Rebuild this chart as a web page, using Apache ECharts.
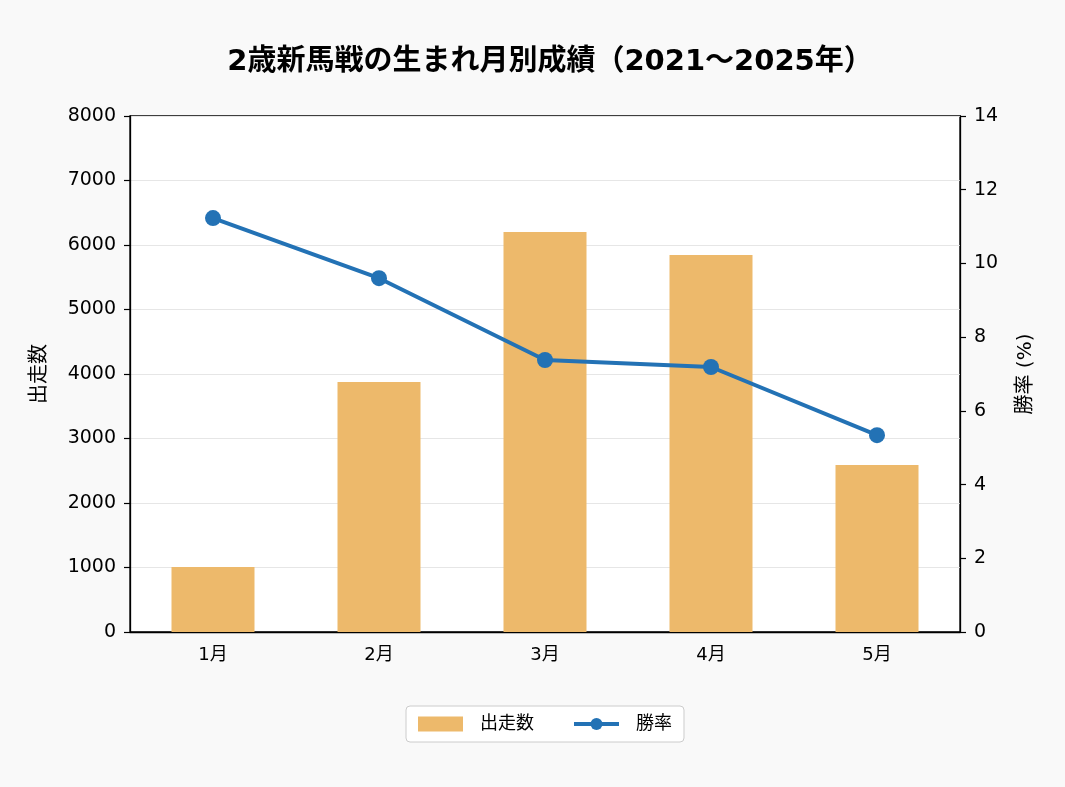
<!DOCTYPE html>
<html>
<head>
<meta charset="utf-8">
<script src="https://cdn.jsdelivr.net/npm/echarts@6/dist/echarts.min.js"></script>
<style>
  html, body { margin: 0; padding: 0; background: #f9f9f9; }
  #chart { width: 1065px; height: 787px; }
</style>
</head>
<body>
<div id="chart"></div>
<script>
const months = ['1月', '2月', '3月', '4月', '5月'];
const starters = [1008, 3876, 6200, 5845, 2590];
const winRate = [11.23, 9.6, 7.38, 7.19, 5.34];

// 数字は幅広のフォント、和文はCJKフォントへフォールバック
const FONT = '"DejaVu Sans", "Noto Sans CJK JP", sans-serif';

const chart = echarts.init(document.getElementById('chart'), null, { renderer: 'canvas' });

const option = {
  backgroundColor: '#f9f9f9',
  textStyle: { fontFamily: FONT },
  title: {
    text: '2歳新馬戦の生まれ月別成績（2021〜2025年）',
    left: 545,
    textAlign: 'center',
    top: 43,
    textStyle: { fontSize: 29, fontWeight: 'bold', color: '#000', fontFamily: FONT }
  },
  grid: {
    left: 130,
    right: 105,
    top: 116,
    bottom: 155,
    show: true,
    backgroundColor: '#fff',
    borderColor: '#000',
    borderWidth: 1.3
  },
  legend: {
    bottom: 45,
    left: 406,
    itemWidth: 45,
    itemHeight: 15,
    itemGap: 38,
    padding: [9, 12],
    borderColor: '#ccc',
    borderWidth: 1,
    borderRadius: 4,
    backgroundColor: '#fff',
    textStyle: { fontSize: 18, color: '#000', fontFamily: FONT, padding: [0, 0, 0, 12] },
    data: [
      { name: '出走数', icon: 'rect' },
      { name: '勝率', lineStyle: { width: 4 } }
    ]
  },
  xAxis: {
    type: 'category',
    data: months,
    axisLine: { lineStyle: { color: '#000', width: 1.3 } },
    axisTick: { alignWithLabel: true, length: 6, lineStyle: { color: '#000', width: 1.2 } },
    axisLabel: { fontSize: 18, color: '#000', margin: 14 }
  },
  yAxis: [
    {
      type: 'value',
      min: 0,
      max: 8000,
      interval: 1000,
      name: '出走数',
      nameLocation: 'middle',
      nameGap: 80,
      nameTextStyle: { fontSize: 20, color: '#000' },
      axisLine: { show: true, lineStyle: { color: '#000', width: 1.3 } },
      axisTick: { show: true, length: 6, lineStyle: { color: '#000', width: 1.2 } },
      axisLabel: { fontSize: 19, color: '#000', margin: 14, formatter: v => String(v) },
      splitLine: { show: true, lineStyle: { color: '#e6e6e6', width: 1 } }
    },
    {
      type: 'value',
      min: 0,
      max: 14,
      interval: 2,
      name: '勝率 (%)',
      nameLocation: 'middle',
      nameGap: 56,
      nameRotate: 90,
      nameTextStyle: { fontSize: 20, color: '#000' },
      axisLine: { show: true, lineStyle: { color: '#000', width: 1.3 } },
      axisTick: { show: true, length: 6, lineStyle: { color: '#000', width: 1.2 } },
      axisLabel: { fontSize: 19, color: '#000', margin: 14 },
      splitLine: { show: false }
    }
  ],
  series: [
    {
      name: '出走数',
      type: 'bar',
      data: starters,
      barWidth: '50%',
      itemStyle: { color: '#edb96b' },
      yAxisIndex: 0
    },
    {
      name: '勝率',
      type: 'line',
      data: winRate,
      yAxisIndex: 1,
      symbol: 'circle',
      symbolSize: 16,
      lineStyle: { color: '#2372b5', width: 4 },
      itemStyle: { color: '#2372b5' }
    }
  ]
};

chart.setOption(option);
</script>
</body>
</html>
